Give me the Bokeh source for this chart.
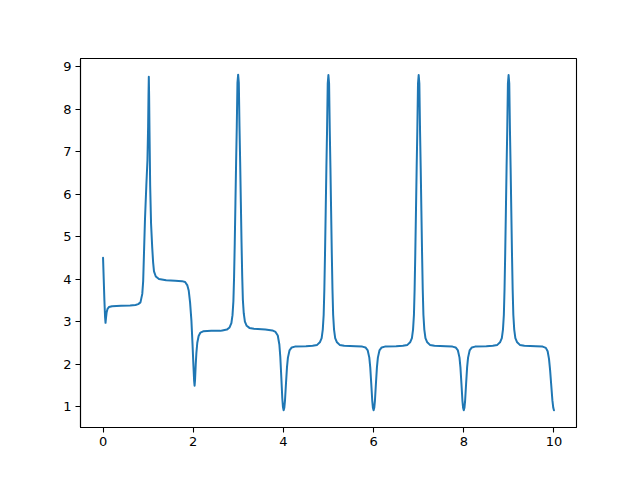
from bokeh.plotting import figure
from bokeh.models import Range1d, FixedTicker, ColumnDataSource
from bokeh.embed import file_html
from bokeh.resources import INLINE

# Curve samples
t_values = [
    0.000, 0.015, 0.030, 0.045, 0.055, 0.065, 0.080, 0.100, 0.130, 0.200,
    0.400, 0.600, 0.720, 0.780, 0.830, 0.870, 0.890, 0.905, 0.930, 0.960,
    0.985, 1.000, 1.008, 1.015, 1.022, 1.030, 1.045, 1.065, 1.090, 1.110,
    1.130, 1.170, 1.240, 1.400, 1.600, 1.750, 1.820, 1.870, 1.900, 1.930,
    1.960, 1.985, 2.005, 2.020, 2.030, 2.040, 2.055, 2.070, 2.090, 2.120,
    2.160, 2.220, 2.400, 2.600,
    2.646, 2.746, 2.806, 2.846, 2.871, 2.891, 2.906, 2.921, 2.936, 2.951,
    2.966, 2.981, 2.996, 3.011, 3.026, 3.041, 3.056, 3.071, 3.086, 3.101,
    3.121, 3.146, 3.186, 3.246, 3.346, 3.600, 3.755,
    3.825, 3.875, 3.910, 3.931, 3.953, 3.975, 3.990, 4.005, 4.020, 4.035,
    4.057, 4.079, 4.100, 4.135, 4.185, 4.255, 4.500,
    4.648, 4.748, 4.808, 4.848, 4.873, 4.893, 4.908, 4.923, 4.938, 4.953,
    4.968, 4.983, 4.998, 5.013, 5.028, 5.043, 5.058, 5.073, 5.088, 5.103,
    5.123, 5.148, 5.188, 5.248, 5.348, 5.600, 5.750,
    5.820, 5.870, 5.905, 5.926, 5.948, 5.970, 5.985, 6.000, 6.015, 6.030,
    6.052, 6.074, 6.095, 6.130, 6.180, 6.250, 6.500,
    6.650, 6.750, 6.810, 6.850, 6.875, 6.895, 6.910, 6.925, 6.940, 6.955,
    6.970, 6.985, 7.000, 7.015, 7.030, 7.045, 7.060, 7.075, 7.090, 7.105,
    7.125, 7.150, 7.190, 7.250, 7.350, 7.600, 7.750,
    7.820, 7.870, 7.905, 7.926, 7.948, 7.970, 7.985, 8.000, 8.015, 8.030,
    8.052, 8.074, 8.095, 8.130, 8.180, 8.250, 8.500,
    8.644, 8.744, 8.804, 8.844, 8.869, 8.889, 8.904, 8.919, 8.934, 8.949,
    8.964, 8.979, 8.994, 9.009, 9.024, 9.039, 9.054, 9.069, 9.084, 9.099,
    9.119, 9.144, 9.184, 9.244, 9.344, 9.600, 9.750,
    9.820, 9.860, 9.890, 9.915, 9.940, 9.965, 9.985, 10.000,
]
y_values = [
    4.50, 4.00, 3.50, 3.10, 2.97, 3.08, 3.22, 3.30, 3.34, 3.36,
    3.37, 3.38, 3.39, 3.41, 3.45, 3.65, 3.95, 4.50, 5.40, 6.20,
    6.80, 7.60, 8.30, 8.76, 8.30, 7.50, 6.20, 5.30, 4.75, 4.40,
    4.18, 4.06, 4.00, 3.97, 3.96, 3.95, 3.93, 3.85, 3.73, 3.45,
    3.02, 2.45, 1.95, 1.60, 1.49, 1.62, 1.98, 2.26, 2.50, 2.66,
    2.74, 2.77, 2.78, 2.78,
    2.79, 2.81, 2.86, 2.96, 3.15, 3.48, 4.05, 4.85, 5.79, 6.74,
    7.59, 8.62, 8.81, 8.62, 7.59, 6.75, 5.81, 4.87, 4.08, 3.51,
    3.19, 3.00, 2.90, 2.85, 2.83, 2.81, 2.79,
    2.755, 2.67, 2.46, 2.17, 1.70, 1.20, 0.985, 0.91, 0.97, 1.14,
    1.54, 1.92, 2.15, 2.32, 2.39, 2.41, 2.42,
    2.43, 2.45, 2.51, 2.61, 2.81, 3.16, 3.76, 4.61, 5.60, 6.61,
    7.50, 8.60, 8.80, 8.60, 7.50, 6.61, 5.60, 4.61, 3.76, 3.16,
    2.81, 2.61, 2.51, 2.45, 2.43, 2.42, 2.41,
    2.39, 2.32, 2.15, 1.92, 1.54, 1.14, 0.97, 0.91, 0.97, 1.14,
    1.54, 1.92, 2.15, 2.32, 2.39, 2.41, 2.42,
    2.43, 2.45, 2.51, 2.61, 2.81, 3.16, 3.76, 4.61, 5.60, 6.61,
    7.50, 8.60, 8.80, 8.60, 7.50, 6.61, 5.60, 4.61, 3.76, 3.16,
    2.81, 2.61, 2.51, 2.45, 2.43, 2.42, 2.41,
    2.39, 2.32, 2.15, 1.92, 1.54, 1.14, 0.97, 0.91, 0.97, 1.14,
    1.54, 1.92, 2.15, 2.32, 2.39, 2.41, 2.42,
    2.43, 2.45, 2.51, 2.61, 2.81, 3.16, 3.76, 4.61, 5.60, 6.61,
    7.50, 8.60, 8.80, 8.60, 7.50, 6.61, 5.60, 4.61, 3.76, 3.16,
    2.81, 2.61, 2.51, 2.45, 2.43, 2.42, 2.41,
    2.38, 2.30, 2.12, 1.85, 1.50, 1.15, 0.97, 0.91,
]
x_ticks = [0, 2, 4, 6, 8, 10]
y_ticks = [1, 2, 3, 4, 5, 6, 7, 8, 9]

assert len(t_values) == len(y_values)

source = ColumnDataSource(data=dict(t=t_values, y=y_values))

p = figure(
    width=624, height=464,
    output_backend="svg", toolbar_location=None,
    x_range=Range1d(-0.5, 10.5), y_range=Range1d(0.506, 9.19),
    min_border_left=80, min_border_right=48,
    min_border_top=58, min_border_bottom=37,
    background_fill_color="white", border_fill_color="white",
)

p.line("t", "y", source=source, line_color="#1f77b4", line_width=2.0,
       line_join="round", line_cap="round")

p.xgrid.visible = False
p.ygrid.visible = False
p.outline_line_color = "black"
p.outline_line_width = 1.1

for ax, ticks in ((p.xaxis[0], x_ticks), (p.yaxis[0], y_ticks)):
    ax.ticker = FixedTicker(ticks=ticks)
    ax.minor_tick_line_color = None
    ax.major_tick_in = 0
    ax.major_tick_out = 5
    ax.major_tick_line_color = "black"
    ax.major_tick_line_width = 1.1
    ax.axis_line_color = "black"
    ax.axis_line_width = 1.1
    ax.major_label_text_font = "DejaVu Sans"
    ax.major_label_text_font_size = "13px"
    ax.major_label_text_color = "black"
    ax.major_label_standoff = 4

with open("out.html", "w") as f:
    f.write(file_html(p, INLINE))
